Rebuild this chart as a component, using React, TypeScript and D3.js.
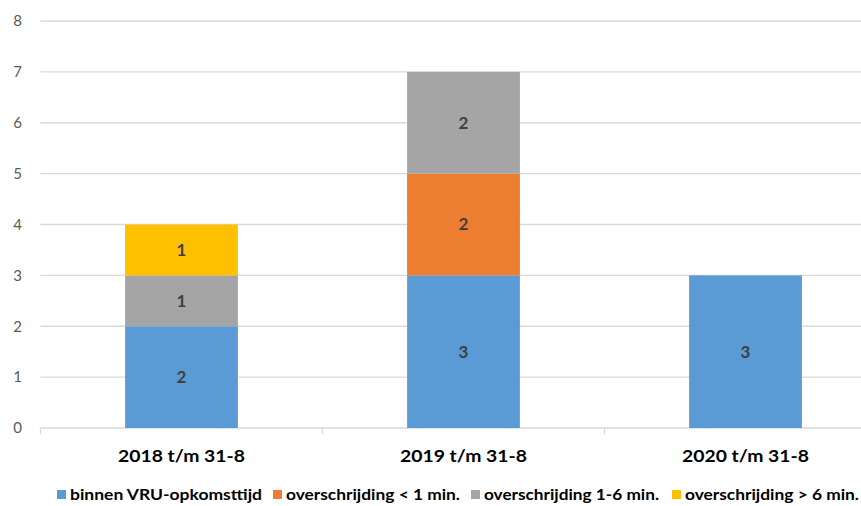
import React from "react";
import * as d3 from "d3";

const categories = ["2018 t/m 31-8", "2019 t/m 31-8", "2020 t/m 31-8"];
const seriesNames = [
  "binnen VRU-opkomsttijd",
  "overschrijding < 1 min.",
  "overschrijding 1-6 min.",
  "overschrijding > 6 min.",
];
const binnen = [2, 3, 3];
const lt1 = [0, 2, 0];
const b16 = [1, 2, 0];
const gt6 = [1, 0, 0];
const colors = ["#5B9BD5", "#ED7D31", "#A5A5A5", "#FFC000"];
const yTicks = [0, 1, 2, 3, 4, 5, 6, 7, 8];

const W = 861;
const H = 506;
const left = 40.5;
const band = 282;
const top = 21;
const bottom = 428;

export default function App() {
  const x = d3
    .scaleBand<string>()
    .domain(categories)
    .range([left, left + band * categories.length])
    .paddingInner(0.6)
    .paddingOuter(0.3);
  const y = d3.scaleLinear().domain([0, 8]).range([bottom, top]);
  const table = categories.map((c, i) => ({
    cat: c,
    s0: binnen[i],
    s1: lt1[i],
    s2: b16[i],
    s3: gt6[i],
  }));
  const stack = d3.stack<any>().keys(["s0", "s1", "s2", "s3"]);
  const layers = stack(table);
  const font = "Lato, 'Open Sans', sans-serif";
  const legendX = [57, 273, 471, 672];
  const legendLen = [192, 174, 175, 174];
  return (
    <svg width={W} height={H} style={{ position: "absolute", left: 0, top: 0 }}>
      <rect width={W} height={H} fill="#fff" />
      {yTicks.map((t) => (
        <g key={t}>
          <line
            x1={left}
            x2={W}
            y1={y(t)}
            y2={y(t)}
            stroke="#D9D9D9"
            strokeWidth={1.3}
          />
          <text
            x={22}
            y={y(t)}
            dy="0.35em"
            textAnchor="end"
            fontFamily={font}
            fontSize={15}
            fill="#595959"
          >
            {t}
          </text>
        </g>
      ))}
      {d3.range(categories.length + 1).map((i) => (
        <line
          key={i}
          x1={left + band * i}
          x2={left + band * i}
          y1={bottom}
          y2={bottom + 6}
          stroke="#D9D9D9"
          strokeWidth={1.3}
        />
      ))}
      {layers.map((layer, li) =>
        layer.map((d, i) => {
          const v = d[1] - d[0];
          if (v <= 0) return null;
          const bx = x(d.data.cat)!;
          const bw = x.bandwidth();
          return (
            <g key={li + "-" + i}>
              <rect
                x={bx}
                y={y(d[1])}
                width={bw}
                height={y(d[0]) - y(d[1])}
                fill={colors[li]}
              />
              <text
                x={bx + bw / 2}
                y={(y(d[0]) + y(d[1])) / 2}
                dy="0.35em"
                textAnchor="middle"
                fontFamily={font}
                fontWeight="bold"
                fontSize={17}
                fill="#404040"
              >
                {v}
              </text>
            </g>
          );
        })
      )}
      {categories.map((c) => (
        <text
          key={c}
          x={x(c)! + x.bandwidth() / 2}
          y={456}
          dy="0.35em"
          textAnchor="middle"
          fontFamily={font}
          fontWeight="bold"
          fontSize={17}
          fill="#000"
          textLength={127}
          lengthAdjust="spacingAndGlyphs"
        >
          {c}
        </text>
      ))}
      {seriesNames.map((s, i) => (
        <g key={s}>
          <rect x={legendX[i]} y={490} width={9} height={9} fill={colors[i]} />
          <text
            x={legendX[i] + 13}
            y={495}
            dy="0.35em"
            fontFamily={font}
            fontWeight="bold"
            fontSize={15}
            fill="#000"
            textLength={legendLen[i]}
            lengthAdjust="spacingAndGlyphs"
          >
            {s}
          </text>
        </g>
      ))}
    </svg>
  );
}
